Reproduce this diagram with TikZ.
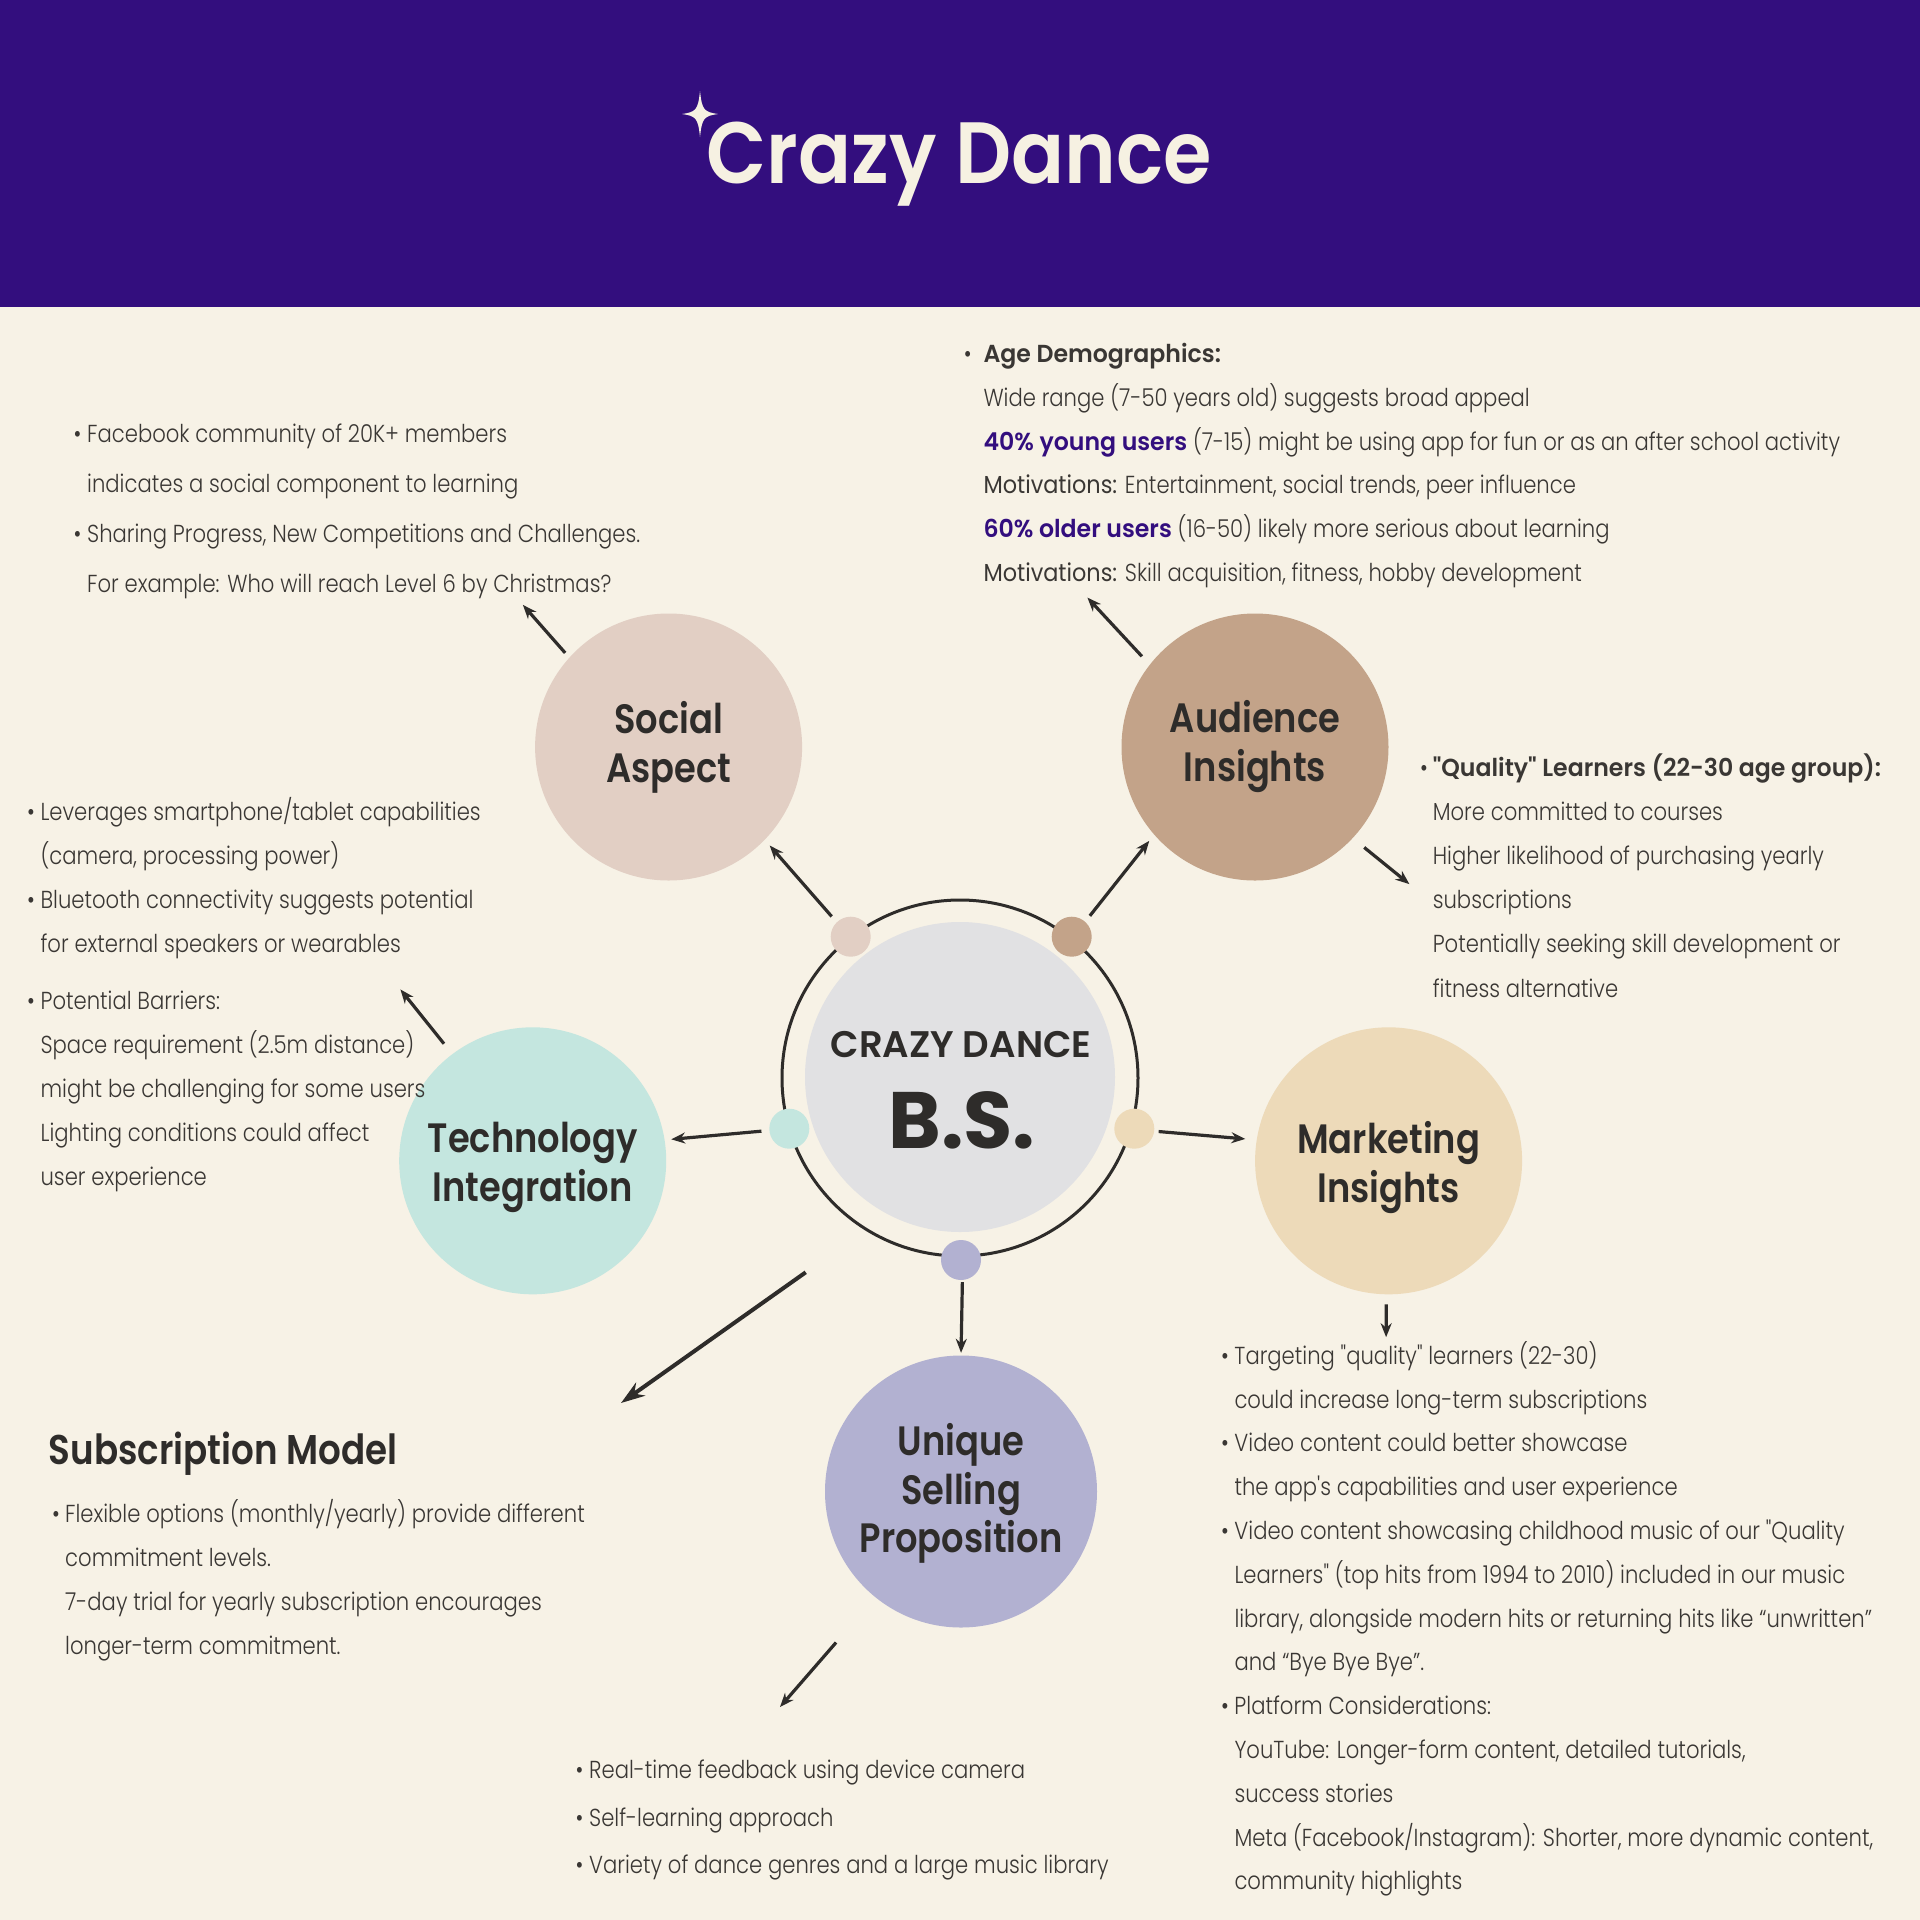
\documentclass[tikz,border=0pt]{standalone}
\usepackage{fontspec}
\usetikzlibrary{arrows.meta}
\setmainfont{Poppins}[UprightFont=* Light, BoldFont=* SemiBold]
\newfontfamily\bodyfont{Poppins}[UprightFont=* Light, BoldFont=* SemiBold, FakeStretch=0.86]
\newfontfamily\medfont{Poppins}[FakeStretch=0.91]
\newfontfamily\bbfont{Poppins}[UprightFont=* SemiBold, FakeStretch=0.96]
\newfontfamily\headfont{Poppins}[UprightFont=* SemiBold, FakeStretch=0.86]
\newfontfamily\titlefont{Poppins}[UprightFont=* SemiBold, FakeStretch=0.9]
\newfontfamily\capfont{Poppins}[UprightFont=* SemiBold]
\newfontfamily\heavyfont{Poppins}[UprightFont=* Bold]
\definecolor{bg}{HTML}{F7F2E6}
\definecolor{hdr}{HTML}{330E7E}
\definecolor{cream}{HTML}{F6F1E2}
\definecolor{ink}{HTML}{2E2C2A}
\definecolor{txt}{HTML}{3A3734}
\definecolor{cSoc}{HTML}{E2CFC4}
\definecolor{cAud}{HTML}{C3A389}
\definecolor{cTec}{HTML}{C4E6DF}
\definecolor{cMkt}{HTML}{EDDAB9}
\definecolor{cUsp}{HTML}{B2B1D1}
\definecolor{cHub}{HTML}{E1E1E3}
\newcommand\fr{\rule{0pt}{32pt}}
\newcommand\bl[1]{\makebox[#1][l]{•}}
\newcommand\ind[1]{\hspace*{#1}}
\newcommand\bb[1]{{\bbfont #1}}
\begin{document}
\begin{tikzpicture}[x=1pt,y=-1pt,
  bigc/.style={circle, inner sep=0pt, minimum size=267pt},
  dotc/.style={circle, inner sep=0pt, minimum size=40pt},
  lab/.style={font=\headfont\fontsize{41}{49}\selectfont, text=ink, align=center, inner sep=0pt},
  blk/.style={anchor=north west, inner sep=0pt, align=left, text=txt},
  arr/.style={draw=ink, line width=3.2pt, -{Stealth[length=14pt,width=11pt]}},
  arrbig/.style={draw=ink, line width=4pt, -{Stealth[length=24pt,width=16pt]}}]
\useasboundingbox (0,0) rectangle (1920,1920);
\fill[bg] (0,0) rectangle (1920,1920);
\fill[hdr] (0,0) rectangle (1920,307);
\node[anchor=base, text=cream, font=\titlefont\fontsize{87}{90}\selectfont, inner sep=0pt] (title) at (959,183) {Crazy Dance};
\fill[cream] (700,91) .. controls (702,110) and (704,112) .. (718,114) .. controls (704,116) and (702,118) .. (700,137) .. controls (698,118) and (696,116) .. (682,114) .. controls (696,112) and (698,110) .. (700,91) -- cycle;

% hub
\node[circle, draw=ink, line width=3pt, minimum size=356pt, inner sep=0pt] (ring) at (960,1078) {};
\node[circle, fill=cHub, minimum size=310pt, inner sep=0pt] (hub) at (960,1077) {};
\node[anchor=base, font=\capfont\fontsize{37}{40}\selectfont, text=ink, inner sep=0pt] (hubA) at (961,1057) {CRAZY DANCE};
\node[anchor=base, font=\heavyfont\fontsize{80}{80}\selectfont, text=ink, inner sep=0pt] (hubB) at (962,1148) {B.S.};

% dots
\node[dotc, fill=cSoc] (dSoc) at (850.7,936.7) {};
\node[dotc, fill=cAud] (dAud) at (1071.7,936.7) {};
\node[dotc, fill=cTec] (dTec) at (789.3,1128.7) {};
\node[dotc, fill=cMkt] (dMkt) at (1134.3,1128.7) {};
\node[dotc, fill=cUsp] (dUsp) at (961,1260) {};

% big circles
\node[bigc, fill=cSoc] (soc) at (668.6,747) {};
\node[bigc, fill=cAud] (aud) at (1255,747) {};
\node[bigc, fill=cTec] (tec) at (532.7,1160.8) {};
\node[bigc, fill=cMkt] (mkt) at (1388.6,1160.8) {};
\node[bigc, fill=cUsp, minimum size=272pt] (usp) at (961,1491.5) {};

\node[lab] (socL) at (soc) {Social\\Aspect};
\node[lab] (audL) at (aud) {Audience\\Insights};
\node[lab] (tecL) at ([yshift=-7pt]tec.center) {Technology\\Integration};
\node[lab] (mktL) at ([yshift=-7pt]mkt.center) {Marketing\\Insights};
\node[lab, font=\headfont\fontsize{41}{48.4}\selectfont] (uspL) at ([yshift=-2pt]usp.center) {Unique\\Selling\\Proposition};

% free ends
\coordinate (socT) at (522.9,604.9);
\coordinate (audT) at (1087.4,597.6);
\coordinate (qualT) at (1409.4,884.1);
\coordinate (tecT) at (400.4,989.4);
\coordinate (mktT) at (1386.1,1337.2);
\coordinate (subS) at (805.7,1272.3);
\coordinate (subT) at (621,1403);
\coordinate (uspT) at (780,1707);

% arrows
\draw[arr, shorten <=7.6pt, shorten >=7.5pt] (dSoc.134.4) -- (soc.316.8);
\draw[arr, shorten <=6.2pt] (soc.138.2) -- (socT);
\draw[arr, shorten <=7.5pt, shorten >=7.8pt] (dAud.48.8) -- (aud.221.2);
\draw[arr, shorten <=11.4pt] (aud.142.5) -- (audT);
\draw[arr, shorten <=14.7pt] (aud.317.4) -- (qualT);
\draw[arr, shorten <=7.8pt, shorten >=6.5pt] (dTec.185.6) -- (tec.9);
\draw[arr, shorten <=13.2pt] (tec.127.5) -- (tecT);
\draw[arr, shorten <=4.3pt, shorten >=11.3pt] (dMkt.353.6) -- (mkt.171.7);
\draw[arr, shorten <=9.8pt] (mkt.269) -- (mktT);
\draw[arr, shorten <=2pt, shorten >=2.5pt] (dUsp.274) -- (usp.90);
\draw[arrbig] (subS) -- (subT);
\draw[arr, shorten <=59.8pt] (usp.231.4) -- (uspT);

% text blocks
\node[blk, font=\bodyfont\fontsize{24.6}{50}\selectfont] (socText) at (73.5,410) {\fr\bl{13.5pt}Facebook community of 20K+ members\\\ind{13.5pt}indicates a social component to learning\\\bl{13.5pt}Sharing Progress, New Competitions and Challenges.\\\ind{13.5pt}For example: Who will reach Level 6 by Christmas?};

\node[blk, font=\bodyfont\fontsize{24.6}{43.9}\selectfont] (audText) at (963.7,330) {\fr\bl{19.6pt}\bb{Age Demographics:}\\\ind{19.6pt}Wide range (7-50 years old) suggests broad appeal\\\ind{19.6pt}\bb{\color{hdr}40\% young users} (7-15) might be using app for fun or as an after school activity\\\ind{19.6pt}{\medfont Motivations:} Entertainment, social trends, peer influence\\\ind{19.6pt}\bb{\color{hdr}60\% older users} (16-50) likely more serious about learning\\\ind{19.6pt}{\medfont Motivations:} Skill acquisition, fitness, hobby development};

\node[blk, font=\bodyfont\fontsize{24.6}{44.1}\selectfont] (qualText) at (1420,744.3) {\fr\bl{12.6pt}\bb{"Quality" Learners (22-30 age group):}\\\ind{12.6pt}More committed to courses\\\ind{12.6pt}Higher likelihood of purchasing yearly\\\ind{12.6pt}subscriptions\\\ind{12.6pt}Potentially seeking skill development or\\\ind{12.6pt}fitness alternative};

\node[blk, font=\bodyfont\fontsize{24.6}{44.1}\selectfont] (tecText) at (27,788.4) {\fr\bl{13.4pt}Leverages smartphone/tablet capabilities\\\ind{13.4pt}(camera, processing power)\\\bl{13.4pt}Bluetooth connectivity suggests potential\\\ind{13.4pt}for external speakers or wearables\\[12pt]\bl{13.4pt}Potential Barriers:\\\ind{13.4pt}Space requirement (2.5m distance)\\\ind{13.4pt}might be challenging for some users\\\ind{13.4pt}Lighting conditions could affect\\\ind{13.4pt}user experience};

\node[anchor=base west, font=\headfont\fontsize{41.5}{45}\selectfont, text=ink, inner sep=0pt] (subTitle) at (48.5,1464) {Subscription Model};
\node[blk, font=\bodyfont\fontsize{24.6}{44}\selectfont] (subText) at (52,1490) {\fr\bl{13pt}Flexible options (monthly/yearly) provide different\\\ind{13pt}commitment levels.\\\ind{13pt}7-day trial for yearly subscription encourages\\\ind{13pt}longer-term commitment.};

\node[blk, font=\bodyfont\fontsize{24.6}{47.8}\selectfont] (uspText) at (575.5,1746) {\fr\bl{13.5pt}Real-time feedback using device camera\\\bl{13.5pt}Self-learning approach\\\bl{13.5pt}Variety of dance genres and a large music library};

\node[blk, font=\bodyfont\fontsize{24.6}{43.8}\selectfont] (mktText) at (1221,1332.1) {\fr\bl{13.3pt}Targeting "quality" learners (22-30)\\\ind{13.3pt}could increase long-term subscriptions\\\bl{13.3pt}Video content could better showcase\\\ind{13.3pt}the app's capabilities and user experience\\\bl{13.3pt}Video content showcasing childhood music of our "Quality\\\ind{13.3pt}Learners" (top hits from 1994 to 2010) included in our music\\\ind{13.3pt}library, alongside modern hits or returning hits like “unwritten”\\\ind{13.3pt}and “Bye Bye Bye”.\\\bl{13.3pt}Platform Considerations:\\\ind{13.3pt}YouTube: Longer-form content, detailed tutorials,\\\ind{13.3pt}success stories\\\ind{13.3pt}Meta (Facebook/Instagram): Shorter, more dynamic content,\\\ind{13.3pt}community highlights};
\end{tikzpicture}
\end{document}
